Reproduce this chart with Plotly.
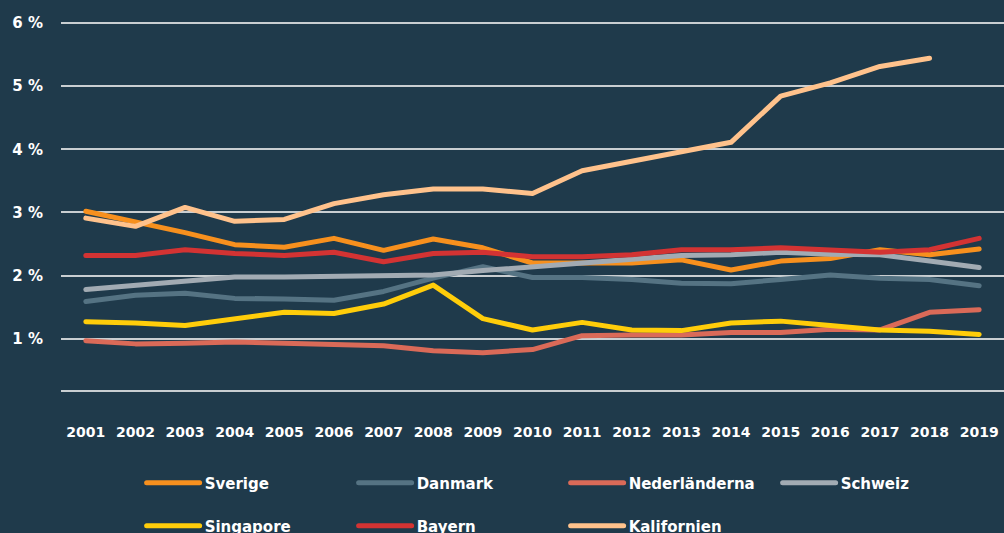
import plotly.graph_objects as go

years = list(range(2001, 2020))

sverige = [3.02, 2.86, 2.68, 2.49, 2.45, 2.59, 2.40, 2.58, 2.44, 2.20, 2.20, 2.20, 2.25, 2.09, 2.23, 2.27, 2.41, 2.33, 2.42]
danmark = [1.59, 1.69, 1.72, 1.64, 1.63, 1.61, 1.75, 1.96, 2.14, 1.97, 1.97, 1.94, 1.88, 1.87, 1.94, 2.01, 1.96, 1.94, 1.84]
nederlanderna = [0.97, 0.92, 0.93, 0.95, 0.93, 0.92, 0.89, 0.81, 0.78, 0.83, 1.05, 1.06, 1.06, 1.10, 1.10, 1.15, 1.14, 1.42, 1.46]
schweiz = [1.78, 1.84, 1.91, 1.98, 1.98, 1.99, 1.99, 2.01, 2.08, 2.14, 2.20, 2.25, 2.32, 2.33, 2.37, 2.34, 2.33, 2.23, 2.13]
singapore = [1.27, 1.25, 1.21, 1.32, 1.42, 1.40, 1.55, 1.85, 1.32, 1.14, 1.26, 1.14, 1.13, 1.25, 1.28, 1.21, 1.14, 1.12, 1.07]
bayern = [2.32, 2.32, 2.41, 2.35, 2.32, 2.37, 2.22, 2.35, 2.37, 2.30, 2.30, 2.33, 2.41, 2.41, 2.44, 2.40, 2.37, 2.41, 2.59]
kalifornien = [2.91, 2.78, 3.08, 2.86, 2.89, 3.14, 3.28, 3.37, 3.37, 3.30, 3.66, 3.80, 3.96, 4.11, 4.84, 5.05, 5.31, 5.44, None]

y_ticks = [1, 2, 3, 4, 5, 6]
y_ticktext = ["1 %", "2 %", "3 %", "4 %", "5 %", "6 %"]

series = [
    ("Sverige", sverige, "#F7901E", "legend"),
    ("Danmark", danmark, "#557383", "legend"),
    ("Nederländerna", nederlanderna, "#DA6A58", "legend"),
    ("Schweiz", schweiz, "#A2ABB3", "legend"),
    ("Singapore", singapore, "#FFCD0A", "legend2"),
    ("Bayern", bayern, "#D33333", "legend2"),
    ("Kalifornien", kalifornien, "#FFC28C", "legend2"),
]

BG = "#1F3A4B"
FONT = "DejaVu Sans"

fig = go.Figure()
for name, vals, color, leg in series:
    fig.add_trace(go.Scatter(
        x=years, y=vals, name=name, mode="lines",
        line=dict(color=color, width=5),
        legend=leg,
    ))

legend_common = dict(
    orientation="h",
    entrywidth=144, entrywidthmode="pixels",
    itemwidth=53,
    font=dict(family=FONT, size=15, color="white", weight="bold"),
    bgcolor="rgba(0,0,0,0)",
    xref="paper", yref="container",
    xanchor="left", yanchor="middle",
    traceorder="normal",
)

fig.update_layout(
    width=1004, height=533,
    margin=dict(l=61, r=0, t=21, b=143),
    paper_bgcolor=BG, plot_bgcolor=BG,
    font=dict(family=FONT, color="white"),
    showlegend=True,
    legend=dict(x=0.0855, y=(533 - 483) / 533, **legend_common),
    legend2=dict(x=0.0855, y=(533 - 526) / 533, **legend_common),
    xaxis=dict(
        range=[2000.5, 2019.5],
        tickvals=years, ticktext=[str(y) for y in years],
        showgrid=False, zeroline=False,
        showline=True, linecolor="#C9CED1", linewidth=2,
        ticks="", ticklabelstandoff=28,
        tickfont=dict(family=FONT, size=14, color="white", weight="bold"),
    ),
    yaxis=dict(
        range=[0.19, 6.03],
        tickvals=y_ticks, ticktext=y_ticktext,
        showgrid=True, gridcolor="#C9CED1", gridwidth=1.5,
        zeroline=False, showline=False, ticks="",
        ticklabelstandoff=17,
        tickfont=dict(family=FONT, size=15, color="white", weight="bold"),
    ),
    annotations=[dict(
        x=0, xref="paper", xanchor="right", xshift=-15,
        y=0, yref="y", yanchor="middle",
        text="0 %", showarrow=False,
        font=dict(family=FONT, size=15, color="white", weight="bold"),
    )],
)

post = (
    "document.body.style.margin='0';"
    "document.body.style.background='" + BG + "';"
    "document.querySelectorAll('.scatterlayer path.js-line, .legendlines path').forEach(function(p){"
    "p.style.strokeLinecap='round';p.style.strokeLinejoin='round';});"
)

fig.write_html("out.html", config={"displayModeBar": False}, post_script=post)
